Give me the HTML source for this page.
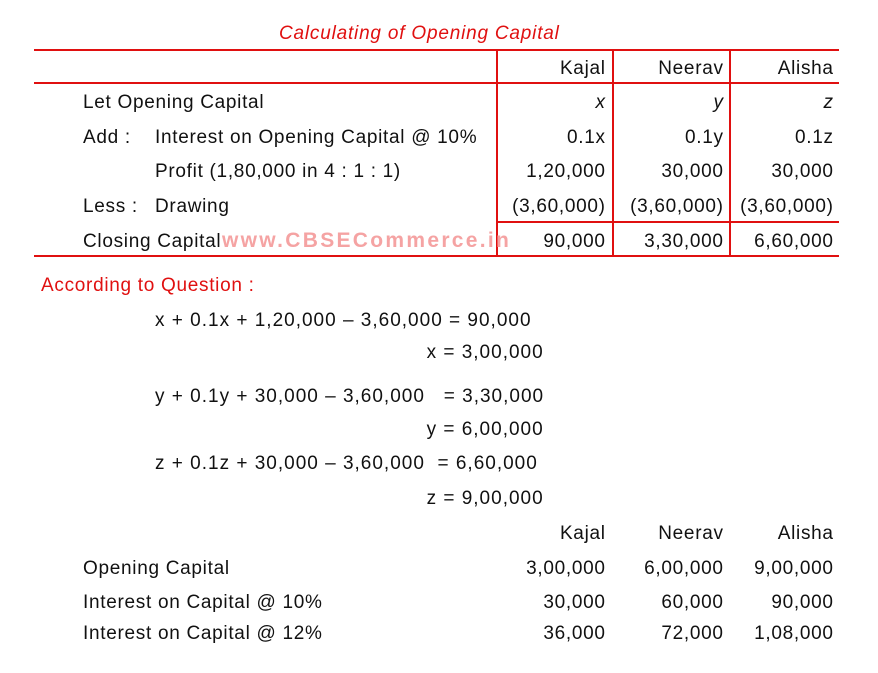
<!DOCTYPE html>
<html><head><meta charset="utf-8"><style>
body{margin:0;width:878px;height:673px;background:#fff;position:relative;overflow:hidden;font-family:"Liberation Sans",sans-serif;font-size:19px;color:#111;letter-spacing:0.7px}
.t{position:absolute;white-space:nowrap;line-height:22px;margin-top:2px}
.r{position:absolute;white-space:nowrap;line-height:22px;text-align:right;margin-top:2px;margin-right:-0.7px}
.e{letter-spacing:1px}
.h{position:absolute;background:#e01010;height:2px}
.v{position:absolute;background:#e01010;width:2px}
.red{color:#e01010}
</style></head><body>
<div class="t red" style="left:279px;top:21px;font-style:italic;letter-spacing:0.8px">Calculating of Opening Capital</div>
<div class="h" style="left:34px;top:49px;width:805px"></div>
<div class="h" style="left:34px;top:82px;width:805px"></div>
<div class="h" style="left:497px;top:221px;width:342px"></div>
<div class="h" style="left:34px;top:255px;width:805px"></div>
<div class="v" style="left:496px;top:49px;height:208px"></div>
<div class="v" style="left:612px;top:49px;height:208px"></div>
<div class="v" style="left:729px;top:49px;height:208px"></div>

<div class="r" style="right:273px;top:56px">Kajal</div>
<div class="r" style="right:155px;top:56px">Neerav</div>
<div class="r" style="right:45px;top:56px">Alisha</div>

<div class="t" style="left:83px;top:90px">Let Opening Capital</div>
<div class="r" style="right:273px;top:90px;font-style:italic">x</div>
<div class="r" style="right:155px;top:90px;font-style:italic">y</div>
<div class="r" style="right:45px;top:90px;font-style:italic">z</div>

<div class="t" style="left:83px;top:125px">Add :</div>
<div class="t" style="left:155px;top:125px">Interest on Opening Capital @ 10%</div>
<div class="r" style="right:273px;top:125px">0.1x</div>
<div class="r" style="right:155px;top:125px">0.1y</div>
<div class="r" style="right:45px;top:125px">0.1z</div>

<div class="t" style="left:155px;top:159px">Profit (1,80,000 in 4 : 1 : 1)</div>
<div class="r" style="right:273px;top:159px">1,20,000</div>
<div class="r" style="right:155px;top:159px">30,000</div>
<div class="r" style="right:45px;top:159px">30,000</div>

<div class="t" style="left:83px;top:194px">Less :</div>
<div class="t" style="left:155px;top:194px">Drawing</div>
<div class="r" style="right:273px;top:194px">(3,60,000)</div>
<div class="r" style="right:155px;top:194px">(3,60,000)</div>
<div class="r" style="right:45px;top:194px">(3,60,000)</div>

<div class="t" style="left:83px;top:229px">Closing Capital</div>
<div class="t" style="left:222px;top:228px;color:#f5a3a3;font-weight:bold;font-size:21px;letter-spacing:2.3px">www.CBSECommerce.in</div>
<div class="r" style="right:273px;top:229px">90,000</div>
<div class="r" style="right:155px;top:229px">3,30,000</div>
<div class="r" style="right:45px;top:229px">6,60,000</div>

<div class="t red" style="left:41px;top:273px">According to Question :</div>
<div class="t e" style="left:155px;top:308px">x + 0.1x + 1,20,000 – 3,60,000 = 90,000</div>
<div class="r e" style="right:335px;top:340px">x = 3,00,000</div>
<div class="t e" style="left:155px;top:384px">y + 0.1y + 30,000 – 3,60,000 &nbsp; = 3,30,000</div>
<div class="r e" style="right:335px;top:417px">y = 6,00,000</div>
<div class="t e" style="left:155px;top:451px">z + 0.1z + 30,000 – 3,60,000 &nbsp;= 6,60,000</div>
<div class="r e" style="right:335px;top:486px">z = 9,00,000</div>

<div class="r" style="right:273px;top:521px">Kajal</div>
<div class="r" style="right:155px;top:521px">Neerav</div>
<div class="r" style="right:45px;top:521px">Alisha</div>
<div class="t" style="left:83px;top:556px">Opening Capital</div>
<div class="r" style="right:273px;top:556px">3,00,000</div>
<div class="r" style="right:155px;top:556px">6,00,000</div>
<div class="r" style="right:45px;top:556px">9,00,000</div>
<div class="t" style="left:83px;top:590px">Interest on Capital @ 10%</div>
<div class="r" style="right:273px;top:590px">30,000</div>
<div class="r" style="right:155px;top:590px">60,000</div>
<div class="r" style="right:45px;top:590px">90,000</div>
<div class="t" style="left:83px;top:621px">Interest on Capital @ 12%</div>
<div class="r" style="right:273px;top:621px">36,000</div>
<div class="r" style="right:155px;top:621px">72,000</div>
<div class="r" style="right:45px;top:621px">1,08,000</div>
</body></html>
